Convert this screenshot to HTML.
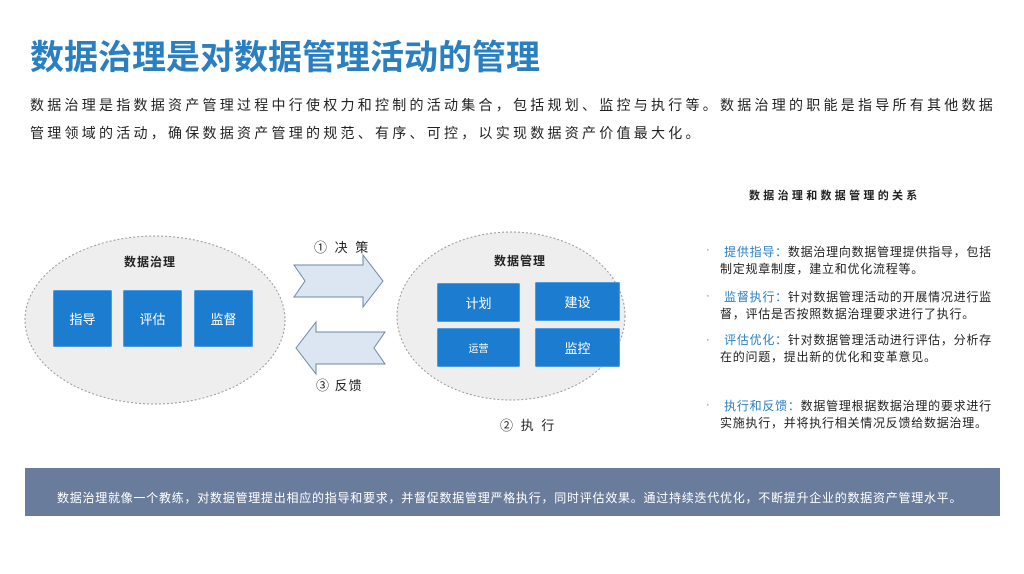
<!DOCTYPE html>
<html><head><meta charset="utf-8"><style>
*{margin:0;padding:0;box-sizing:border-box}
body{width:1024px;height:574px;background:#fff;position:relative;overflow:hidden;font-family:"Liberation Sans","Noto Sans CJK SC",sans-serif;color:#222}
.a{position:absolute;white-space:nowrap}
.title{left:30px;top:30px;font-size:34px;font-weight:bold;color:#2a7fc1;letter-spacing:0px}
.p{left:30px;font-size:14px;letter-spacing:3.25px;color:#222}
.box{position:absolute;background:#1c7cd0;color:#fff;font-size:13px;display:flex;align-items:center;justify-content:center;border-radius:2px;box-shadow:0 0 0 1px #4a9be0 inset}
.lbl{font-size:12px;font-weight:bold;color:#222;letter-spacing:1px}
.r{font-size:12px;color:#222;line-height:17px;white-space:normal;letter-spacing:0.75px}
.r b{color:#2a7fc1;font-weight:normal}
</style></head><body>
<div class="a title">数据治理是对数据管理活动的管理</div>
<div class="a p" style="top:95px">数据治理是指数据资产管理过程中行使权力和控制的活动集合，包括规划、监控与执行等。数据治理的职能是指导所有其他数据</div>
<div class="a p" style="top:123px">管理领域的活动，确保数据资产管理的规范、有序、可控，以实现数据资产价值最大化。</div>

<svg class="a" style="left:0;top:0" width="1024" height="574">
<ellipse cx="155" cy="320" rx="130" ry="84" fill="#eeeeee" stroke="#999" stroke-dasharray="2,2"/>
<ellipse cx="511" cy="316" rx="114" ry="84" fill="#eeeeee" stroke="#999" stroke-dasharray="2,2"/>
<polygon points="294,265 363,265 363,255 383,281 363,307 363,297 294,297 305,281" fill="#dbe6f2" stroke="#6d8aa6"/>
<polygon points="385,332 316,332 316,322 296,348 316,374 316,364 385,364 374,348" fill="#dbe6f2" stroke="#6d8aa6"/>
</svg>
<div class="a lbl" style="left:124px;top:253px">数据治理</div>
<div class="a lbl" style="left:494px;top:252px">数据管理</div>
<div class="box" style="left:53px;top:290px;width:59px;height:57px">指导</div>
<div class="box" style="left:123px;top:290px;width:59px;height:57px">评估</div>
<div class="box" style="left:194px;top:290px;width:59px;height:57px">监督</div>
<div class="box" style="left:437px;top:283px;width:83px;height:39px">计划</div>
<div class="box" style="left:535px;top:282px;width:85px;height:39px">建设</div>
<div class="box" style="left:437px;top:328px;width:83px;height:39px;font-size:10px">运营</div>
<div class="box" style="left:535px;top:328px;width:85px;height:39px">监控</div>
<div class="a" style="left:314px;top:237px;font-size:13px;letter-spacing:2px">① 决 策</div>
<div class="a" style="left:316px;top:375px;font-size:13px;letter-spacing:1px">③ 反馈</div>
<div class="a" style="left:500px;top:415px;font-size:13px;letter-spacing:2px">② 执 行</div>

<div class="a" style="left:749px;top:187px;font-size:11px;font-weight:bold;letter-spacing:3.3px">数据治理和数据管理的关系</div>
<div class="a" style="left:706px;top:244px;font-size:11px;color:#2a7fc1">·</div>
<div class="a" style="left:706px;top:290px;font-size:11px;color:#2a7fc1">·</div>
<div class="a" style="left:706px;top:334px;font-size:11px;color:#2a7fc1">·</div>
<div class="a" style="left:706px;top:399px;font-size:11px;color:#2a7fc1">·</div>
<div class="a r" style="left:720px;top:244px;width:290px">&nbsp;<b>提供指导：</b>数据治理向数据管理提供指导，包括<br>制定规章制度，建立和优化流程等。</div>
<div class="a r" style="left:720px;top:289px;width:290px">&nbsp;<b>监督执行：</b>针对数据管理活动的开展情况进行监<br>督，评估是否按照数据治理要求进行了执行。</div>
<div class="a r" style="left:720px;top:332px;width:290px">&nbsp;<b>评估优化：</b>针对数据管理活动进行评估，分析存<br>在的问题，提出新的优化和变革意见。</div>
<div class="a r" style="left:720px;top:398px;width:290px">&nbsp;<b>执行和反馈：</b>数据管理根据数据治理的要求进行<br>实施执行，并将执行相关情况反馈给数据治理。</div>

<div class="a" style="left:25px;top:468px;width:975px;height:48px;background:#6a7c9c"></div>
<div class="a" style="left:57px;top:489px;font-size:12px;color:#fff;letter-spacing:0.75px">数据治理就像一个教练，对数据管理提出相应的指导和要求，并督促数据管理严格执行，同时评估效果。通过持续迭代优化，不断提升企业的数据资产管理水平。</div>
</body></html>
